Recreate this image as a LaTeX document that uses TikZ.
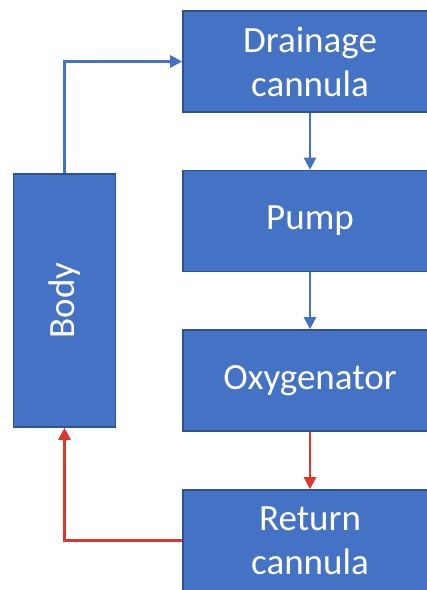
\documentclass[tikz,border=0pt]{standalone}
\usepackage{fontspec}
\setmainfont{Carlito}
\usetikzlibrary{arrows.meta}
\definecolor{boxfill}{HTML}{4472C4}
\definecolor{boxline}{HTML}{2F528F}
\definecolor{flowblue}{HTML}{4472C4}
\definecolor{flowred}{HTML}{E0352B}
\begin{document}
\begin{tikzpicture}[x=1pt,y=-1pt,
  blk/.style={draw=boxline, line width=1.6pt, fill=boxfill, text=white, rectangle,
    inner sep=0pt, align=center, font=\fontsize{37}{44}\selectfont},
  conn/.style={line width=2.6pt, -{Triangle[length=12pt,width=12pt]}}]
\useasboundingbox (0,0) rectangle (427,590);
\clip (0,0) rectangle (427,590);
\node[blk, minimum width=254pt, minimum height=101pt] (drain) at (310,61.5) {Drainage\\cannula};
\node[blk, minimum width=254pt, minimum height=101pt] (pump) at (310,221) {Pump};
\node[blk, minimum width=254pt, minimum height=101pt] (oxy) at (310,380.5) {Oxygenator};
\node[blk, minimum width=254pt, minimum height=101pt] (ret) at (310,540.5) {Return\\cannula};
\node[blk, minimum width=102pt, minimum height=253pt] (body) at (64.5,300.5) {};
\node[text=white, font=\fontsize{37}{44}\selectfont, rotate=90, inner sep=0pt] (bodylbl) at (body.center) {Body};
\draw[conn, flowblue] (body.north) |- (drain.west);
\draw[conn, flowblue] (drain.south) -- (pump.north);
\draw[conn, flowblue] (pump.south) -- (oxy.north);
\draw[conn, flowred] (oxy.south) -- (ret.north);
\draw[conn, flowred] (ret.west) -| (body.south);
\end{tikzpicture}
\end{document}
